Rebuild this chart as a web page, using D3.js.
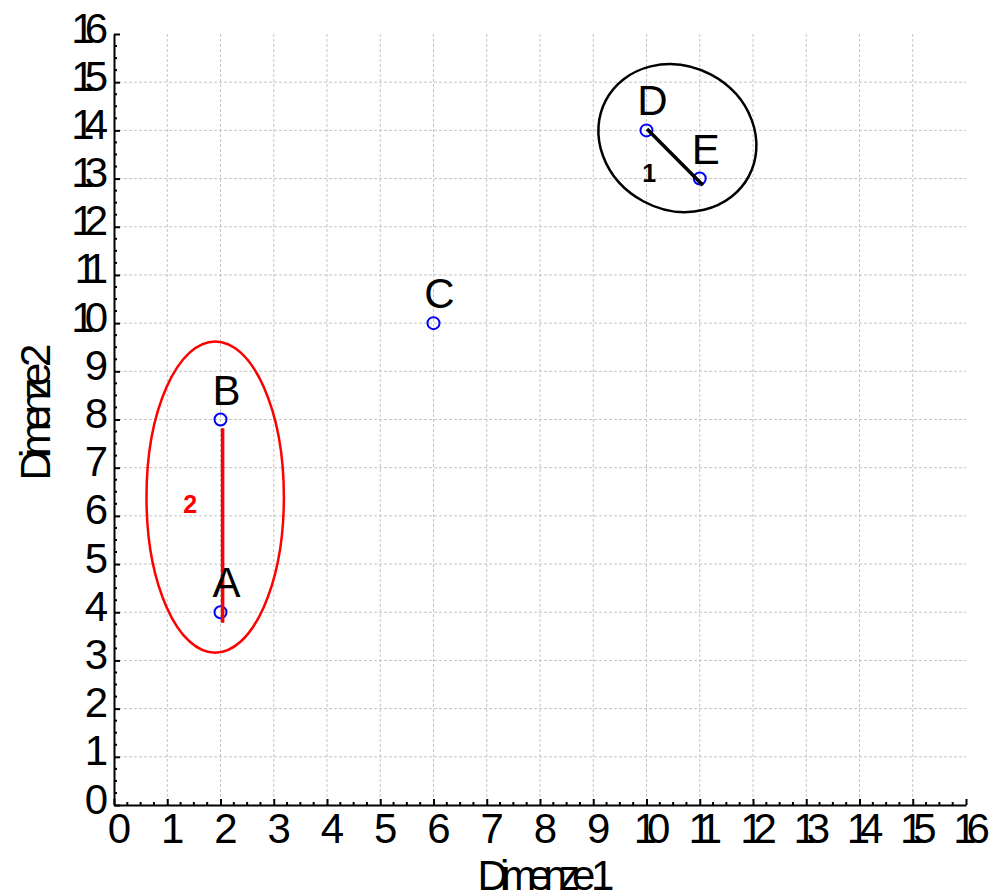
<!DOCTYPE html>
<html>
<head>
<meta charset="utf-8">
<script src="https://cdn.jsdelivr.net/npm/d3@7"></script>
<style>
  body { margin: 0; background: #fff; }
  svg { display: block; }
  text { font-family: "Liberation Sans", Arial, sans-serif; }
</style>
</head>
<body>
<svg width="1000" height="893"></svg>
<script>
// points
const names = ['A', 'B', 'C', 'D', 'E'];
const xs = [2, 2, 6, 10, 11];
const ys = [4, 8, 10, 14, 13];

// cluster links
const linkIds = ['1', '2'];
const linkColors = ['#000000', '#ff0000'];
const linkFrom = [[10.01, 14.03], [2.04, 7.82]];
const linkTo = [[11.06, 12.86], [2.04, 3.78]];
const linkLabelPos = [[10.05, 12.93], [1.43, 6.06]];

// cluster ellipses (centre, radii in axis units, tilt in degrees)
const ellCx = [10.58, 1.90];
const ellCy = [13.84, 6.39];
const ellRx = [1.52, 1.29];
const ellRy = [1.49, 3.23];
const ellTilt = [28, 0];

const ticks = d3.range(0, 17);
const minorTicks = d3.range(0, 16.01, 0.25).filter(v => v % 1 !== 0);

const svg = d3.select('svg');
const x = d3.scaleLinear().domain([0, 16]).range([114, 966]);
const y = d3.scaleLinear().domain([0, 16]).range([805, 34]);

// grid
svg.append('g').selectAll('line')
    .data(ticks.filter(t => t > 0 && t < 16))
    .enter().append('line')
        .attr('x1', d => x(d)).attr('x2', d => x(d))
        .attr('y1', y(16)).attr('y2', y(0))
        .attr('stroke', '#c4c4c4').attr('stroke-dasharray', '3,2');
svg.append('g').selectAll('line')
    .data(ticks.filter(t => t > 0 && t < 16))
    .enter().append('line')
        .attr('x1', x(0)).attr('x2', x(16))
        .attr('y1', d => y(d)).attr('y2', d => y(d))
        .attr('stroke', '#c4c4c4').attr('stroke-dasharray', '3,2');

// axes
const xAxis = svg.append('g').attr('transform', 'translate(0,' + y(0) + ')')
    .call(d3.axisBottom(x).tickValues(ticks).tickSizeInner(-6).tickSizeOuter(0).tickFormat(d3.format('d')));
const yAxis = svg.append('g').attr('transform', 'translate(' + x(0) + ',0)')
    .call(d3.axisLeft(y).tickValues(ticks).tickSizeInner(-6).tickSizeOuter(0).tickFormat(d3.format('d')));

[xAxis, yAxis].forEach(g => {
    g.select('.domain').attr('stroke', '#000').attr('stroke-width', 2);
    g.selectAll('.tick line').attr('stroke', '#000').attr('stroke-width', 2);
    g.selectAll('.tick text')
        .attr('font-size', 42)
        .attr('font-family', '"Liberation Sans", Arial, sans-serif')
        .attr('fill', '#000')
        .style('letter-spacing', '-10px');
});
xAxis.selectAll('.tick text').attr('y', 8).attr('dy', '0.71em').attr('dx', 0);
yAxis.selectAll('.tick text').attr('x', -16).attr('dy', 8);

// minor ticks
svg.append('g').selectAll('line')
    .data(minorTicks)
    .enter().append('line')
        .attr('x1', d => x(d)).attr('x2', d => x(d))
        .attr('y1', y(0)).attr('y2', y(0) - 3)
        .attr('stroke', '#000').attr('stroke-width', 2);
svg.append('g').selectAll('line')
    .data(minorTicks)
    .enter().append('line')
        .attr('x1', x(0)).attr('x2', x(0) + 3)
        .attr('y1', d => y(d)).attr('y2', d => y(d))
        .attr('stroke', '#000').attr('stroke-width', 2);

// axis titles
svg.append('text')
    .attr('x', 542).attr('y', 890)
    .attr('text-anchor', 'middle')
    .attr('font-size', 42)
    .style('letter-spacing', '-8px')
    .text('Dimenze 1');
svg.append('text')
    .attr('transform', 'translate(50,' + 416 + ') rotate(-90)')
    .attr('text-anchor', 'middle')
    .attr('font-size', 42)
    .style('letter-spacing', '-8px')
    .text('Dimenze 2');

// ellipses
svg.append('g').selectAll('ellipse')
    .data(linkIds)
    .enter().append('ellipse')
        .attr('transform', (d, i) => 'translate(' + x(ellCx[i]) + ',' + y(ellCy[i]) + ') rotate(' + ellTilt[i] + ')')
        .attr('rx', (d, i) => x(ellRx[i]) - x(0))
        .attr('ry', (d, i) => y(0) - y(ellRy[i]))
        .attr('fill', 'none')
        .attr('stroke', (d, i) => linkColors[i])
        .attr('stroke-width', 2.5);

// points
svg.append('g').selectAll('circle')
    .data(names)
    .enter().append('circle')
        .attr('cx', (d, i) => x(xs[i]))
        .attr('cy', (d, i) => y(ys[i]))
        .attr('r', 6)
        .attr('fill', 'none')
        .attr('stroke', '#0000ff')
        .attr('stroke-width', 2);

// links
svg.append('g').selectAll('line')
    .data(linkIds)
    .enter().append('line')
        .attr('x1', (d, i) => x(linkFrom[i][0])).attr('y1', (d, i) => y(linkFrom[i][1]))
        .attr('x2', (d, i) => x(linkTo[i][0])).attr('y2', (d, i) => y(linkTo[i][1]))
        .attr('stroke', (d, i) => linkColors[i])
        .attr('stroke-width', 3.5);

// point labels
svg.append('g').selectAll('text')
    .data(names)
    .enter().append('text')
        .attr('x', (d, i) => x(xs[i]) + 6)
        .attr('y', (d, i) => y(ys[i]) - 15)
        .attr('text-anchor', 'middle')
        .attr('font-size', 42)
        .text(d => d);

// cluster numbers
svg.append('g').selectAll('text')
    .data(linkIds)
    .enter().append('text')
        .attr('x', (d, i) => x(linkLabelPos[i][0]))
        .attr('y', (d, i) => y(linkLabelPos[i][1]))
        .attr('text-anchor', 'middle')
        .attr('font-family', '"Open Sans", sans-serif')
        .attr('font-weight', 'bold')
        .attr('font-size', 25)
        .attr('fill', (d, i) => linkColors[i])
        .text(d => d);
</script>
</body>
</html>
